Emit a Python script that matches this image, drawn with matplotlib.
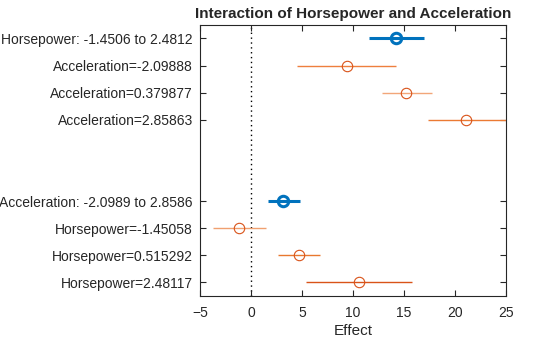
import matplotlib
matplotlib.use("Agg")
import matplotlib.pyplot as plt

plt.rcParams['font.family'] = ['Liberation Sans', 'DejaVu Sans']

# Row labels (top to bottom) and their positions on the y axis
labels = [
    "Horsepower: -1.4506 to 2.4812",
    "Acceleration=-2.09888",
    "Acceleration=0.379877",
    "Acceleration=2.85863",
    "Acceleration: -2.0989 to 2.8586",
    "Horsepower=-1.45058",
    "Horsepower=0.515292",
    "Horsepower=2.48117",
]
rows = [1, 2, 3, 4, 7, 8, 9, 10]

# Effect estimates and confidence bounds
effect = [14.2, 9.38, 15.2, 21.1, 3.16, -1.14, 4.69, 10.61]
lower = [11.6, 4.48, 12.8, 17.4, 1.63, -3.74, 2.67, 5.40]
upper = [17.0, 14.2, 17.7, 25.0, 4.79, 1.50, 6.77, 15.8]
is_main = [True, False, False, False, True, False, False, False]

line_colors = ["#0072BD", "#EE7F3E", "#F2A679", "#EB7A33",
               "#0072BD", "#F0A070", "#E8782F", "#D95319"]

fig = plt.figure(figsize=(5.6, 3.37), dpi=100)
ax = fig.add_axes([0.357, 0.1217, 0.5466, 0.8043])

ax.axvline(0, color="black", linestyle=(0, (1, 2.5)), linewidth=1.0, zorder=1)

for y, e, lo, hi, main, c in zip(rows, effect, lower, upper, is_main, line_colors):
    if main:
        ax.plot([lo, hi], [y, y], color=c, linewidth=2.2, solid_capstyle="butt", zorder=2)
        ax.plot([e], [y], marker="o", markersize=7.5, markerfacecolor="none",
                markeredgecolor=c, markeredgewidth=2.2, zorder=3)
    else:
        ax.plot([lo, hi], [y, y], color=c, linewidth=1.0, solid_capstyle="butt", zorder=2)
        ax.plot([e], [y], marker="o", markersize=7.5, markerfacecolor="none",
                markeredgecolor="#D95319", markeredgewidth=0.8, zorder=3)

ax.set_xlim(-5, 25)
ax.set_ylim(10.5, 0.5)
ax.set_xticks([-5, 0, 5, 10, 15, 20, 25])
ax.set_yticks(rows)
ax.set_yticklabels(labels)

ax.tick_params(axis="both", direction="in", length=4, width=0.8,
               colors="#262626", labelsize=10, top=True, right=True, pad=5)
ax.tick_params(axis="x", pad=7)
for s in ax.spines.values():
    s.set_color("#262626")
    s.set_linewidth(0.8)

ax.set_xlabel("Effect", fontsize=11, color="#262626", labelpad=3)
ax.set_title("Interaction of Horsepower and Acceleration", fontsize=11,
             fontweight="bold", color="#262626", pad=5)

fig.savefig("out.png", dpi=100)
